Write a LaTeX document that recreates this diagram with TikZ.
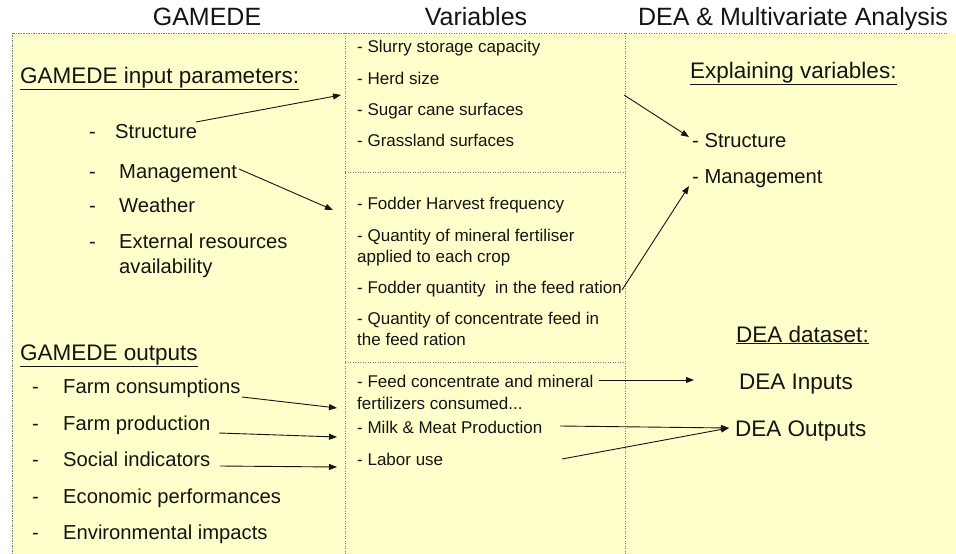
\documentclass[tikz,border=0pt]{standalone}
\usepackage{fontspec}
\setmainfont{Liberation Sans}
\usetikzlibrary{arrows.meta}
\definecolor{bgyellow}{HTML}{FFFFCC}
\definecolor{txt}{HTML}{141414}
\definecolor{framec}{HTML}{7A7A7A}
\begin{document}
\begin{tikzpicture}[x=1pt,y=-1pt,
  title/.style={font=\fontsize{25}{30}\selectfont, text=txt, inner sep=0pt, anchor=base},
  head/.style={font=\fontsize{22.5}{26}\selectfont, text=txt, inner sep=0pt, anchor=base west},
  item/.style={font=\fontsize{20.2}{24}\selectfont, text=txt, inner sep=0pt, anchor=base west},
  var/.style={font=\fontsize{17}{20}\selectfont, text=txt, inner sep=0pt, anchor=base west},
  rgt/.style={font=\fontsize{20.2}{24}\selectfont, text=txt, inner sep=0pt, anchor=base west},
  rhead/.style={font=\fontsize{22.5}{26}\selectfont, text=txt, inner sep=0pt, anchor=base west},
  frameline/.style={draw=framec, line width=0.8pt, dash pattern=on 1.2pt off 1.3pt},
  arr/.style={draw=txt, line width=0.9pt, -{Triangle[length=8pt,width=6pt]}},
]
\useasboundingbox (0,0) rectangle (956,554);
\fill[white] (0,0) rectangle (956,554);
\fill[bgyellow] (12,33) rectangle (956,554);
% frame lines
\draw[frameline] (12,554) -- (12,33) -- (948,33);
\draw[frameline] (345,33) -- (345,554);
\draw[frameline] (625,33) -- (625,554);
\draw[frameline] (345,172) -- (625,172);
\draw[frameline] (345,362) -- (625,362);

% titles
\node[title] (t1) at (207,25) {GAMEDE};
\node[title] (t2) at (476,25) {Variables};
\node[title] (t3) at (793,25) {DEA \& Multivariate Analysis};

% left column
\node[head] (hin) at (20,83) {\underline{GAMEDE input parameters:}};
\node[item] (d1) at (89,138) {-};
\node[item] (istruct) at (115,138) {Structure};
\node[item] (d2) at (89,178) {-};
\node[item] (imanag) at (119,178) {Management};
\node[item] (d3) at (89,212) {-};
\node[item] (iweath) at (119,212) {Weather};
\node[item] (d4) at (89,248) {-};
\node[item] (iext) at (119,248) {External resources};
\node[item] (iavail) at (119,273) {availability};

\node[head] (hout) at (20,360) {\underline{GAMEDE outputs}};
\node[item] (e1) at (32,393) {-};
\node[item] (ofarmc) at (63,393) {Farm consumptions};
\node[item] (e2) at (32,430) {-};
\node[item] (ofarmp) at (63,430) {Farm production};
\node[item] (e3) at (32,466) {-};
\node[item] (osocial) at (63,466) {Social indicators};
\node[item] (e4) at (32,503) {-};
\node[item] (oecon) at (63,503) {Economic performances};
\node[item] (e5) at (32,539) {-};
\node[item] (oenv) at (63,539) {Environmental impacts};

% middle column
\node[var] (v1) at (357,52) {- Slurry storage capacity};
\node[var] (v2) at (357,84) {- Herd size};
\node[var] (v3) at (357,115) {- Sugar cane surfaces};
\node[var] (v4) at (357,146) {- Grassland surfaces};
\node[var] (m1) at (357,209) {- Fodder Harvest frequency};
\node[var] (m2) at (357,241) {- Quantity of mineral fertiliser};
\node[var] (m2b) at (357,262) {applied to each crop};
\node[var] (m3) at (357,293) {- Fodder quantity\ \ in the feed ration};
\node[var] (m4) at (357,324) {- Quantity of concentrate feed in};
\node[var] (m4b) at (357,345) {the feed ration};
\node[var] (o1) at (357,387) {- Feed concentrate and mineral};
\node[var] (o1b) at (357,409) {fertilizers consumed...};
\node[var] (o2) at (357,433) {- Milk \& Meat Production};
\node[var] (o3) at (357,465) {- Labor use};

% right column
\node[rhead] (hexp) at (690,78) {\underline{Explaining variables:}};
\node[rgt] (rstruct) at (692,147) {- Structure};
\node[rgt] (rmanag) at (692,183) {- Management};
\node[rhead] (hdea) at (736,342) {\underline{DEA dataset:}};
\node[rhead] (rin) at (739,389) {DEA Inputs};
\node[rhead] (rout) at (735,436) {DEA Outputs};

% arrow anchor coordinates
\coordinate (s1) at (196,122); \coordinate (f1) at (341,95);
\coordinate (s2) at (239,169); \coordinate (f2) at (333,210);
\coordinate (s3) at (624,95);  \coordinate (f3) at (689,137);
\coordinate (s4) at (622,290); \coordinate (f4) at (689,186);
\coordinate (s5) at (242,397); \coordinate (f5) at (337,408);
\coordinate (s6) at (219,433); \coordinate (f6) at (337,437);
\coordinate (s7) at (220,466); \coordinate (f7) at (337,467);
\coordinate (s8) at (599,380); \coordinate (f8) at (694,380);
\coordinate (s9) at (560,426); \coordinate (f9) at (729,428);
\coordinate (s10) at (562,459);

\draw[arr] (s1) -- (f1);
\draw[arr] (s2) -- (f2);
\draw[arr] (s3) -- (f3);
\draw[arr] (s4) -- (f4);
\draw[arr] (s5) -- (f5);
\draw[arr] (s6) -- (f6);
\draw[arr] (s7) -- (f7);
\draw[arr] (s8) -- (f8);
\draw[arr] (s9) -- (f9);
\draw[arr] (s10) -- (f9);
\end{tikzpicture}
\end{document}
